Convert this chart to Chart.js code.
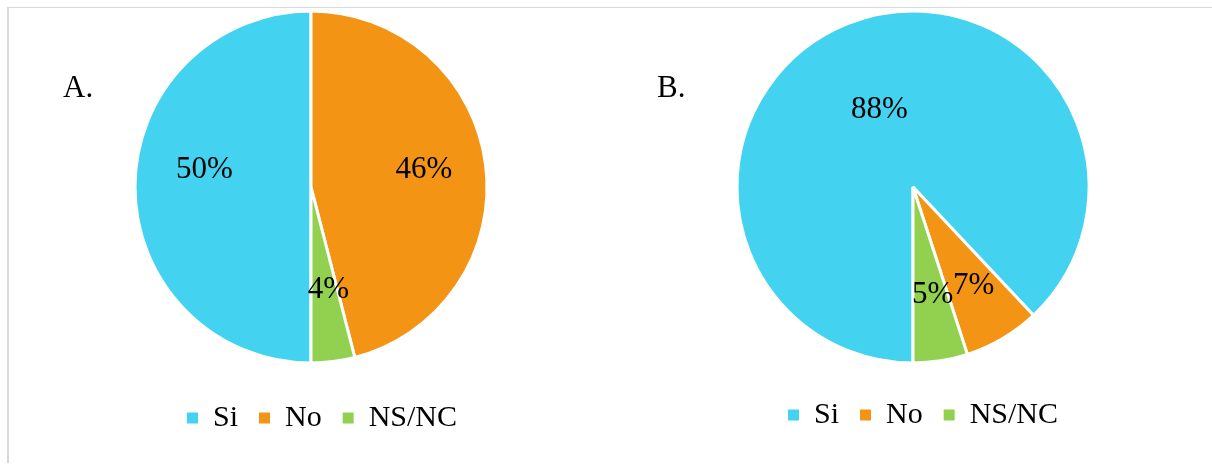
<!DOCTYPE html>
<html>
<head>
<meta charset="utf-8">
<script src="https://cdn.jsdelivr.net/npm/chart.js@4.4.1/dist/chart.umd.min.js"></script>
<style>
  html, body { margin: 0; padding: 0; background: #fff; overflow: hidden; }
  body { width: 1212px; height: 465px; position: relative; font-family: "Liberation Serif", "Times New Roman", serif; }
  .frame-left { position: absolute; left: 7px; top: 7px; width: 2px; height: 456px; background: #d9d9d9; }
  .frame-top { position: absolute; left: 7px; top: 7px; width: 1205px; height: 1px; background: #d9d9d9; }
  .panel { position: absolute; top: 0; }
  .tag { position: absolute; font-size: 31px; line-height: 31px; color: #000; }
</style>
</head>
<body>
<div class="frame-left"></div>
<div class="frame-top"></div>
<div class="panel" style="left:10px"><canvas id="pieA" width="602" height="465"></canvas></div>
<div class="panel" style="left:613px"><canvas id="pieB" width="600" height="465"></canvas></div>
<div class="tag" style="left:63px; top:71px">A.</div>
<div class="tag" style="left:657px; top:71px">B.</div>
<script>
// Answer categories and shares (%) for the two surveyed groups
const categories = ['Si', 'No', 'NS/NC'];
const valuesA = [50, 46, 4];
const valuesB = [88, 7, 5];
const sliceColors = ['#43d3f0', '#f39415', '#92d050'];

// Percentage labels placed along each slice's bisector
const sliceLabels = {
  id: 'sliceLabels',
  afterDatasetsDraw(chart, args, opts) {
    const ctx = chart.ctx;
    const meta = chart.getDatasetMeta(0);
    const data = chart.data.datasets[0].data;
    ctx.save();
    ctx.font = opts.font;
    ctx.fillStyle = '#000';
    ctx.textAlign = 'center';
    ctx.textBaseline = 'middle';
    meta.data.forEach((arc, i) => {
      const p = arc.getProps(['x', 'y', 'startAngle', 'endAngle', 'outerRadius'], true);
      const place = opts.place[i] || { r: 0.6, a: 0 };
      const mid = (p.startAngle + p.endAngle) / 2 + place.a * Math.PI / 180;
      const rr = p.outerRadius * place.r;
      ctx.fillText(data[i] + '%', p.x + Math.cos(mid) * rr, p.y + Math.sin(mid) * rr + 1);
    });
    ctx.restore();
  }
};

// Moves the legend row after layout without changing the pie area
const legendNudge = {
  id: 'legendNudge',
  afterLayout(chart, args, opts) {
    const lg = chart.legend;
    if (!lg) return;
    lg.left += opts.dx; lg.right += opts.dx;
    lg.top += opts.dy; lg.bottom += opts.dy;
  }
};

function makePie(id, values, place, nudge) {
  return new Chart(document.getElementById(id), {
    type: 'pie',
    data: {
      labels: categories,
      datasets: [{
        data: values,
        backgroundColor: sliceColors,
        borderColor: '#ffffff',
        borderWidth: 3
      }]
    },
    options: {
      responsive: false,
      animation: false,
      devicePixelRatio: 1,
      rotation: 180,
      layout: { padding: { top: 9.5, bottom: 39.5, left: 0, right: 0 } },
      plugins: {
        tooltip: { enabled: false },
        legend: {
          position: 'bottom',
          labels: {
            boxWidth: 11,
            boxHeight: 11,
            padding: 21,
            color: '#000',
            font: { family: 'Liberation Serif', size: 30 },
            generateLabels(chart) {
              return Chart.controllers.pie.overrides.plugins.legend.labels
                .generateLabels(chart)
                .map(item => Object.assign(item, { lineWidth: 0, strokeStyle: 'rgba(0,0,0,0)' }));
            }
          }
        },
        sliceLabels: { font: '31px "Liberation Serif"', place: place },
        legendNudge: nudge
      }
    },
    plugins: [sliceLabels, legendNudge]
  });
}

makePie('pieA', valuesA,
  [{ r: 0.614, a: 9.6 }, { r: 0.65, a: -1.8 }, { r: 0.59, a: -2.5 }],
  { dx: 11, dy: 17.5 });
makePie('pieB', valuesB,
  [{ r: 0.485, a: -1.5 }, { r: 0.655, a: -1.1 }, { r: 0.615, a: -1.4 }],
  { dx: 10, dy: 14.5 });
</script>
</body>
</html>
